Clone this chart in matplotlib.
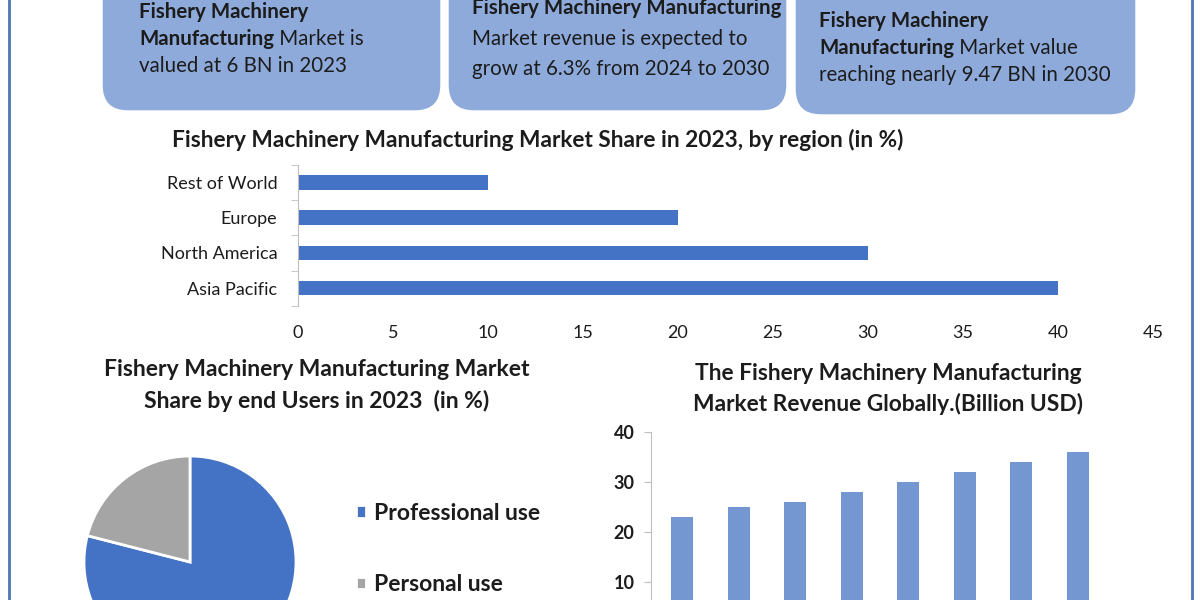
import matplotlib
matplotlib.use("Agg")
import matplotlib.pyplot as plt
from matplotlib.patches import FancyBboxPatch

plt.rcParams['font.family'] = ['Lato', 'DejaVu Sans']

# 数据
regions = ['Asia Pacific', 'North America', 'Europe', 'Rest of World']
region_share = [40, 30, 20, 10]
region_ticks = [0, 5, 10, 15, 20, 25, 30, 35, 40, 45]

user_labels = ['Professional use', 'Personal use']
user_share = [79, 21]

years = ['2023', '2024', '2025', '2026', '2027', '2028', '2029', '2030']
revenue = [23, 25, 26, 28, 30, 32, 34, 36]
revenue_ticks = [10, 20, 30, 40]

W, H = 1200, 600
TXT = '#1c1c1c'
GRID = '#bfbfbf'

fig = plt.figure(figsize=(12, 6), dpi=100)


def px_box(left, top, right, bottom):
    # 像素坐标 -> figure 坐标
    return [left / W, 1 - bottom / H, (right - left) / W, (bottom - top) / H]


bg = fig.add_axes([0, 0, 1, 1], zorder=0)
bg.set_xlim(0, W)
bg.set_ylim(H, 0)
bg.axis('off')

# 左右边框
bg.plot([9, 9], [0, H], color='#4f76b3', lw=2)
bg.plot([1192, 1192], [0, H], color='#4f76b3', lw=2)

# 顶部三个圆角框
for l, r, b in [(102, 441, 111), (448, 787, 111), (795, 1136, 115)]:
    bg.add_patch(FancyBboxPatch((l, -40), r - l, b + 40,
                                boxstyle='round,pad=0,rounding_size=26',
                                fc='#8eaadb', ec='white', lw=1))


def rich_line(x, y, parts, size=14.8):
    prev = None
    for text, weight in parts:
        if prev is None:
            prev = bg.text(x, y, text, fontsize=size, fontweight=weight,
                           va='baseline', ha='left', color=TXT)
        else:
            prev = bg.annotate(text, xy=(1, 0), xycoords=prev, va='bottom',
                               ha='left', fontsize=size, fontweight=weight,
                               color=TXT)


rich_line(139, 18, [('Fishery Machinery', 'bold')])
rich_line(139, 45, [('Manufacturing', 'bold'), (' Market is', 'normal')])
rich_line(139, 72, [('valued at 6 BN in 2023', 'normal')])

rich_line(472, 14, [('Fishery Machinery Manufacturing', 'bold')])
rich_line(472, 45, [('Market revenue is expected to', 'normal')])
rich_line(472, 75, [('grow at 6.3% from 2024 to 2030', 'normal')])

rich_line(819, 27, [('Fishery Machinery', 'bold')])
rich_line(819, 54, [('Manufacturing', 'bold'), (' Market value', 'normal')])
rich_line(819, 81, [('reaching nearly 9.47 BN in 2030', 'normal')])

# 标题
bg.text(538, 140, 'Fishery Machinery Manufacturing Market Share in 2023, by region (in %)',
        ha='center', va='center', fontsize=16.3, fontweight='bold', color=TXT)
bg.text(317, 370, 'Fishery Machinery Manufacturing Market',
        ha='center', va='center', fontsize=16.5, fontweight='bold', color=TXT)
bg.text(317, 401, 'Share by end Users in 2023  (in %)',
        ha='center', va='center', fontsize=16.5, fontweight='bold', color=TXT)
bg.text(888, 374, 'The Fishery Machinery Manufacturing',
        ha='center', va='center', fontsize=16.4, fontweight='bold', color=TXT)
bg.text(888, 404, 'Market Revenue Globally.(Billion USD)',
        ha='center', va='center', fontsize=16.4, fontweight='bold', color=TXT)

# 区域横向柱状图
ax2 = fig.add_axes(px_box(298, 165, 1153, 305.7), zorder=1)
ypos = list(range(len(regions)))
ax2.barh(ypos, region_share, height=0.42, color='#4472c4')
ax2.set_xlim(0, 45)
ax2.set_ylim(-0.5, 3.5)
ax2.set_xticks(region_ticks)
ax2.set_yticks(ypos)
ax2.set_yticklabels(regions)
ax2.set_yticks([p - 0.5 for p in ypos] + [3.5], minor=True)
for s in ['top', 'right', 'bottom']:
    ax2.spines[s].set_visible(False)
ax2.spines['left'].set_color(GRID)
ax2.tick_params(axis='x', length=0, pad=14, labelsize=13, labelcolor=TXT)
ax2.tick_params(axis='y', which='major', length=0, pad=15, labelsize=13, labelcolor=TXT)
ax2.tick_params(axis='y', which='minor', length=5, color=GRID)
ax2.patch.set_alpha(0)

# 饼图
ax4 = fig.add_axes(px_box(84, 456, 296, 668), zorder=1)
wedges, _ = ax4.pie(user_share, colors=['#4472c4', '#a5a5a5'], startangle=90,
                    counterclock=False,
                    wedgeprops=dict(edgecolor='white', linewidth=2))
ax4.set_xlim(-1, 1)
ax4.set_ylim(-1, 1)
fig.legend(wedges, user_labels, loc='center left',
           bbox_to_anchor=(335 / W, 1 - 549 / H), frameon=False,
           prop=dict(size=16.5, weight='bold'), labelcolor=TXT,
           handlelength=0.45, handleheight=0.45, labelspacing=2.2,
           handletextpad=0.35)

# 全球收入柱状图
ax3 = fig.add_axes(px_box(651, 432, 1109, 631.6), zorder=1)
xpos = list(range(len(years)))
ax3.bar(xpos, revenue, width=0.39, color='#7496d1')
ax3.set_xlim(-0.55, 7.55)
ax3.set_ylim(0, 40)
ax3.set_yticks(revenue_ticks)
ax3.set_xticks(xpos)
ax3.set_xticklabels(years)
for s in ['top', 'right']:
    ax3.spines[s].set_visible(False)
ax3.spines['left'].set_color(GRID)
ax3.spines['bottom'].set_color(GRID)
ax3.tick_params(axis='y', length=5, color=GRID, pad=7, labelsize=13,
                labelcolor=TXT)
for lbl in ax3.get_yticklabels():
    lbl.set_fontweight('bold')
# 年份标签在参考图中位于画面之外
ax3.tick_params(axis='x', length=0, labelbottom=False)
ax3.patch.set_alpha(0)

fig.savefig('out.png', dpi=100)
